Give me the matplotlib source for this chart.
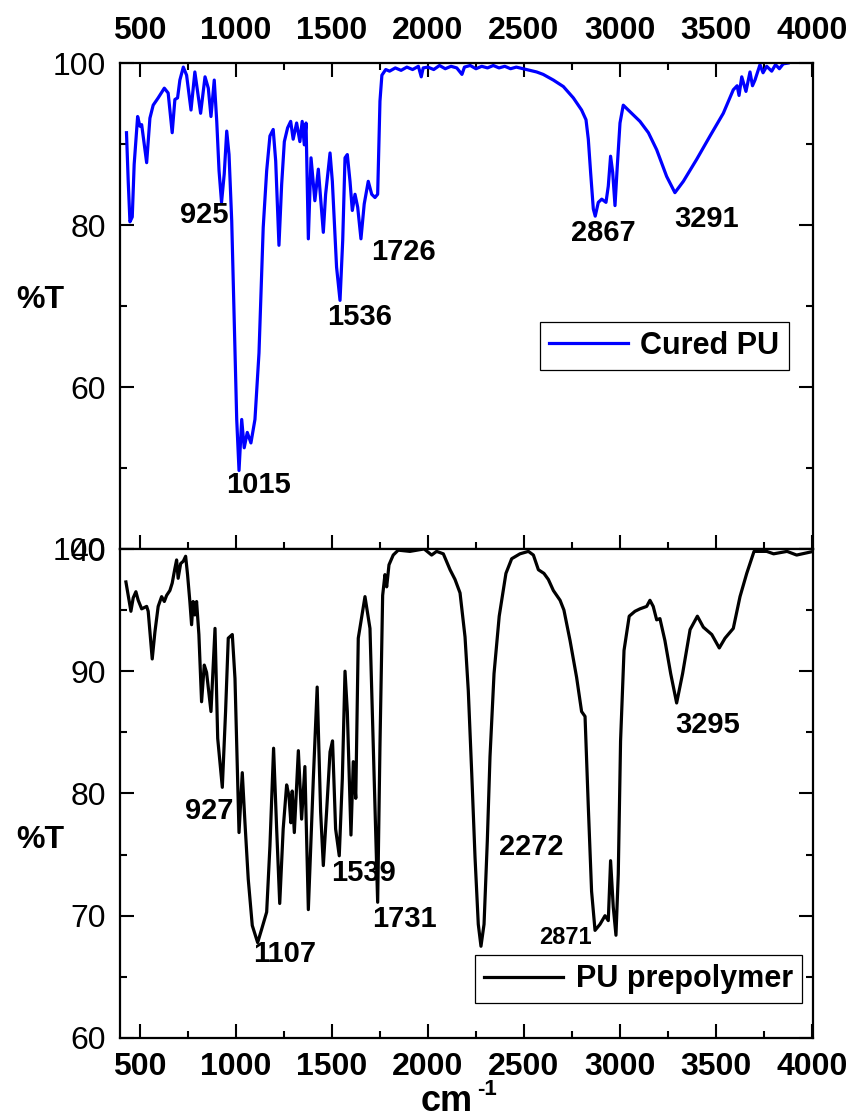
import matplotlib
matplotlib.use("Agg")
import matplotlib.pyplot as plt
from matplotlib.ticker import MultipleLocator

plt.rcParams['font.family'] = ['Liberation Sans', 'DejaVu Sans']

# Cured PU spectrum (wavenumber, %T)
cured_wn = [430, 439, 448, 460, 470, 488, 500, 509, 535, 552, 569, 595, 627, 647, 668,
            682, 696, 708, 726, 743, 766, 786, 800, 816, 839, 856, 870, 887, 900, 912,
            925, 939, 952, 964, 978, 991, 1004, 1016, 1030, 1043, 1059, 1078, 1099, 1120,
            1142, 1160, 1177, 1194, 1207, 1224, 1238, 1252, 1269, 1285, 1298, 1316, 1333,
            1345, 1356, 1365, 1377, 1391, 1411, 1429, 1455, 1467, 1490, 1502, 1524, 1542,
            1556, 1568, 1580, 1594, 1606, 1620, 1634, 1651, 1668, 1689, 1707, 1724, 1738,
            1750, 1760, 1780, 1800, 1830, 1860, 1890, 1920, 1950, 1965, 1975, 2000, 2030,
            2060, 2090, 2120, 2150, 2177, 2190, 2220, 2250, 2280, 2310, 2340, 2370, 2400,
            2430, 2460, 2496, 2566, 2600, 2653, 2705, 2757, 2800, 2823, 2835, 2847, 2861,
            2871, 2887, 2905, 2927, 2939, 2951, 2962, 2974, 2986, 3000, 3017, 3052, 3104,
            3148, 3191, 3243, 3286, 3330, 3399, 3469, 3538, 3590, 3610, 3620, 3634, 3656,
            3677, 3690, 3703, 3729, 3745, 3764, 3790, 3810, 3830, 3850, 3875]
cured_t = [91.4, 85.4, 80.4, 81.0, 87.5, 93.4, 92.2, 92.4, 87.7, 93.2, 94.8, 95.7, 96.9, 96.3, 91.4,
           95.5, 95.7, 97.9, 99.5, 98.5, 94.2, 98.9, 96.5, 93.8, 98.3, 96.9, 93.4, 97.9, 92.8, 86.7,
           82.8, 86.3, 91.6, 88.7, 80.5, 68.3, 56.0, 49.7, 56.0, 52.5, 54.4, 53.1, 56.0, 64.2,
           79.7, 86.7, 91.0, 91.8, 87.9, 77.5, 85.0, 90.3, 92.0, 92.8, 90.6, 92.6, 90.3,
           92.8, 89.9, 92.6, 78.3, 88.3, 83.0, 86.9, 79.1, 83.8, 88.9, 85.4, 74.8, 70.7,
           78.1, 88.3, 88.7, 85.4, 81.8, 83.8, 82.2, 78.3, 82.6, 85.4, 83.8, 83.4, 83.8,
           95.3, 98.5, 99.2, 99.0, 99.4, 99.1, 99.5, 99.2, 99.6, 98.3, 99.4, 99.5, 99.2,
           99.7, 99.3, 99.6, 99.4, 98.6, 99.5, 99.7, 99.3, 99.6, 99.4, 99.7, 99.4, 99.6,
           99.3, 99.5, 99.3, 98.9, 98.6, 97.9, 97.1, 95.7, 94.2, 93.0, 90.6, 86.5, 82.0,
           81.1, 82.8, 83.2, 82.8, 84.8, 88.5, 86.5, 82.4, 87.3, 92.6, 94.8, 94.0, 92.8,
           91.4, 89.3, 86.0, 84.0, 85.4, 88.1, 91.0, 93.8, 96.7, 97.2, 96.0, 98.3, 96.5,
           98.9, 97.2, 97.9, 99.8, 98.8, 99.6, 99.0, 99.8, 99.3, 99.9, 100.0]

# PU prepolymer spectrum
pre_wn = [427, 439, 453, 465, 479, 491, 509, 535, 543, 552, 564, 578, 595, 613, 627,
          639, 656, 668, 682, 691, 699, 712, 726, 738, 748, 760, 769, 777, 786, 795,
          807, 821, 835, 847, 870, 891, 905, 929, 946, 960, 981, 995, 1009, 1016, 1033,
          1047, 1064, 1085, 1113, 1134, 1160, 1177, 1196, 1212, 1228, 1246, 1264, 1276,
          1286, 1293, 1304, 1325, 1342, 1359, 1377, 1403, 1423, 1441, 1455, 1472, 1490,
          1503, 1519, 1538, 1554, 1568, 1580, 1599, 1611, 1624, 1637, 1672, 1698, 1720,
          1738, 1750, 1764, 1776, 1785, 1797, 1819, 1845, 1906, 1980, 2019, 2045, 2080,
          2115, 2141, 2167, 2193, 2210, 2228, 2245, 2262, 2276, 2292, 2309, 2323, 2344,
          2371, 2406, 2436, 2479, 2523, 2549, 2575, 2604, 2627, 2653, 2688, 2708, 2740,
          2774, 2800, 2818, 2835, 2852, 2870, 2896, 2922, 2939, 2951, 2965, 2979, 2991,
          3003, 3021, 3048, 3078, 3104, 3139, 3156, 3173, 3191, 3208, 3234, 3264, 3295,
          3326, 3365, 3403, 3434, 3478, 3517, 3547, 3590, 3625, 3660, 3698, 3764, 3800,
          3870, 3920, 4007]
pre_t = [97.3, 96.2, 94.9, 96.0, 96.5, 95.8, 95.1, 95.3, 94.9, 93.2, 91.0, 93.2, 95.3, 96.1, 95.7,
         96.2, 96.6, 97.2, 98.4, 99.1, 97.6, 98.8, 99.0, 99.4, 97.9, 95.7, 93.8, 95.7, 94.6, 95.7,
         93.0, 87.5, 90.5, 89.9, 86.7, 93.5, 84.5, 80.5, 86.7, 92.7, 93.0, 89.4, 81.2, 76.8, 81.7,
         77.6, 73.0, 69.2, 67.8, 68.9, 70.3, 75.7, 83.7, 77.1, 71.0, 77.1, 80.7, 79.8,
         77.6, 80.2, 76.8, 83.5, 77.9, 82.2, 70.5, 81.2, 88.7, 78.5, 74.1, 78.5, 83.4,
         84.3, 77.1, 74.9, 81.2, 90.0, 86.7, 76.6, 82.6, 79.6, 92.7, 96.1, 93.5, 81.2,
         71.1, 83.9, 96.2, 97.9, 96.9, 98.7, 99.5, 99.9, 99.8, 100.0, 99.5, 99.8, 99.6,
         98.3, 97.5, 96.4, 92.8, 88.4, 81.6, 74.8, 69.3, 67.5, 69.3, 76.1, 83.0, 89.8,
         94.5, 98.0, 99.2, 99.6, 99.8, 99.5, 98.3, 98.0, 97.5, 96.6, 95.8, 95.0, 92.5,
         89.5, 86.7, 86.3, 78.9, 72.0, 68.8, 69.3, 70.0, 69.6, 74.5, 70.7, 68.4, 73.4,
         84.3, 91.7, 94.5, 94.9, 95.1, 95.3, 95.8, 95.3, 94.2, 94.3, 92.5, 89.8, 87.4,
         89.8, 93.4, 94.5, 93.6, 93.0, 91.9, 92.7, 93.5, 96.1, 98.0, 99.8, 99.8, 99.6,
         99.8, 99.5, 99.8]

cured_peaks = ["925", "1015", "1536", "1726", "2867", "3291"]
cured_peak_pos = [(833, 81.2), (1116, 47.9), (1646, 68.7), (1870, 76.7), (2911, 79.0), (3453, 80.7)]
pre_peaks = ["927", "1107", "1539", "1731", "2272", "2871", "3295"]
pre_peak_pos = [(859, 78.6), (1252, 66.9), (1662, 73.5), (1875, 69.7), (2536, 75.6), (2717, 68.2), (3456, 85.6)]
pre_peak_size = [21, 21, 21, 21, 21, 17, 21]

fig = plt.figure(figsize=(8.52, 11.18), dpi=100)
ax1 = fig.add_axes([0.1408, 0.5089, 0.8134, 0.4347])
ax2 = fig.add_axes([0.1408, 0.0716, 0.8134, 0.4374])

ax1.plot(cured_wn, cured_t, color="#0000ff", lw=2.3, label="Cured PU")
ax2.plot(pre_wn, pre_t, color="black", lw=2.3, label="PU prepolymer")

for ax in (ax1, ax2):
    ax.set_xlim(396, 4005)
    ax.xaxis.set_major_locator(MultipleLocator(500))
    ax.xaxis.set_minor_locator(MultipleLocator(250))
    for s in ax.spines.values():
        s.set_linewidth(1.6)
    ax.tick_params(which="both", direction="in", width=1.5, left=True, right=True)
    ax.tick_params(which="major", length=10)
    ax.tick_params(which="minor", length=5)
    ax.tick_params(axis="y", labelsize=23, pad=10)

ax1.set_ylim(40, 100)
ax1.yaxis.set_major_locator(MultipleLocator(20))
ax1.yaxis.set_minor_locator(MultipleLocator(10))
ax1.tick_params(axis="x", which="both", top=True, bottom=True, labeltop=True, labelbottom=False)
ax1.tick_params(axis="x", labelsize=23, pad=12)

ax2.set_ylim(60, 100)
ax2.yaxis.set_major_locator(MultipleLocator(10))
ax2.yaxis.set_minor_locator(MultipleLocator(5))
ax2.tick_params(axis="x", which="both", top=False, bottom=True)
ax2.tick_params(axis="x", labelsize=23, pad=10)

for ax in (ax1, ax2):
    for lab in ax.get_xticklabels():
        lab.set_fontweight("bold")

for txt, (x, y) in zip(cured_peaks, cured_peak_pos):
    ax1.text(x, y, txt, fontsize=21, fontweight="bold", ha="center", va="center")
for txt, (x, y), fs in zip(pre_peaks, pre_peak_pos, pre_peak_size):
    ax2.text(x, y, txt, fontsize=fs, fontweight="bold", ha="center", va="center")

for ax, anchor in ((ax1, (0.965, 0.418)), (ax2, (0.984, 0.12))):
    leg = ax.legend(loc="center right", bbox_to_anchor=anchor, fancybox=False,
                    edgecolor="black", framealpha=1, handlelength=2.6,
                    handletextpad=0.4, borderpad=0.3, borderaxespad=0,
                    prop={"size": 22, "weight": "bold"})
    leg.get_frame().set_linewidth(0.9)

fig.text(40 / 852, 1 - 300 / 1118, "%T", fontsize=23, fontweight="bold", ha="center", va="center")
fig.text(40 / 852, 1 - 840 / 1118, "%T", fontsize=23, fontweight="bold", ha="center", va="center")
fig.text(447 / 852, 1 - 1111 / 1118, "cm", fontsize=26, fontweight="bold", ha="center", va="baseline")
fig.text(477 / 852, 1 - 1095 / 1118, "-1", fontsize=16, fontweight="bold", ha="left", va="baseline")

fig.savefig("out.png", dpi=100)
